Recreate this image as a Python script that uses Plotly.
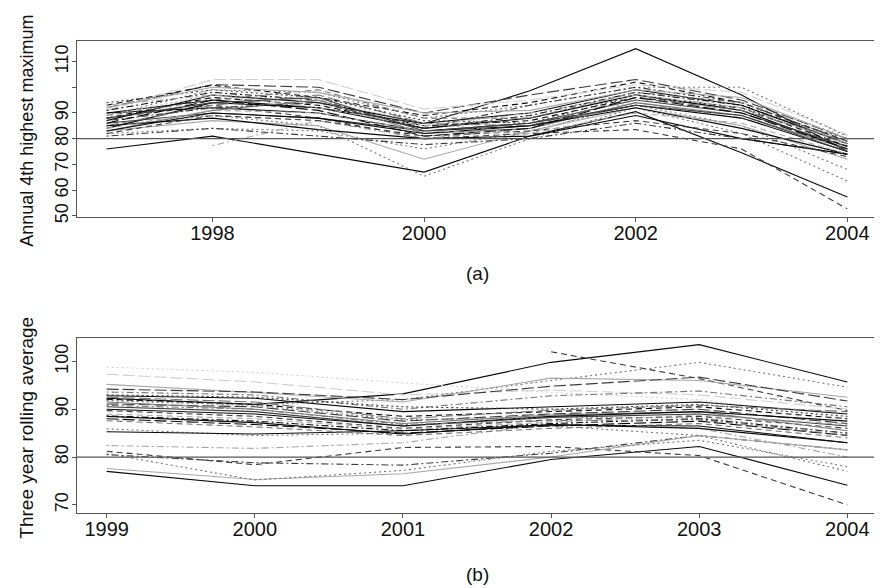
import plotly.graph_objects as go

# ---------------- data ----------------
years_a = [1997, 1998, 1999, 2000, 2001, 2002, 2003, 2004]
years_b = [1999, 2000, 2001, 2002, 2003, 2004]

xticks_a = [1998, 2000, 2002, 2004]
xticks_b = [1999, 2000, 2001, 2002, 2003, 2004]
yticks_a = [50, 60, 70, 80, 90, 100, 110]
yticklabels_a = ["50", "60", "70", "80", "90", "", "110"]
yticks_b = [70, 80, 90, 100]
yticklabels_b = ["70", "80", "90", "100"]

standard = 80

# (a) annual 4th highest maximum, one list per monitor
series_a = [
    [90, 95, 92, 85.8, 98.6, 115, 97, 75],
    [76, 81, 74, 67, 81, 90.5, 74.5, 57.3],
    [88, 93, 88, 80, 82, 83.5, 76, 52.7],
    [85, 89, 85, 65.4, 80, 92, 82, 63.5],
    [82, 84, 83, 76, 83, 93, 85, 68],
    [83, 87, 85, 72, 83, 92, 85, 72],
    [None, 77.3, 87, 80, 84, 94, 88, 77],
    [81, 84, 81, 77.7, 80, 86, 80, 74],
    [92, 101, 100, 90, 97, 103, 95, 80],
    [93, 100.8, 96, 89, 94, 102, 94, 79],
    [91, 103, 103, 91.5, 95, 101, 98, 81.5],
    [89, 99, 98, 88, 93, 100, 100, 81],
    [87, 97, 94, 86, 90, 99, 93, 78],
    [84, 94, 92, 84, 88, 97, 91, 76],
    [86, 90, 88, 83, 86, 95, 90, 77],
    [90, 92, 90, 83, 85, 93, 88, 75],
    [88, 96, 93, 85, 87, 96, 92, 77],
    [91, 98, 95, 84, 89, 98, 93, 78],
    [85, 93, 97, 86, 85, 96, 91, 79],
    [83, 91, 95, 82, 84, 94, 89, 76],
    [94, 99, 96, 87, 86, 97, 92, 80],
    [89, 95, 99, 88, 88, 98, 94, 78],
    [83, 90, 88, 82, 85, 92, 84, 74],
    [87, 92, 94, 84, 93, 100, 94, 79],
    [86, 95, 91, 81, 84, 96, 90, 76],
    [92, 100, 98, 90, 91, 99, 96, 80],
    [89, 97, 95, 86, 82, 95, 94, 81],
    [85, 88, 83.5, 80, 81, 89, 80, 74],
    [82, 89, 87, 81, 83, 87, 82, 73],
    [93, 97, 92, 85, 90, 97, 92, 78],
    [88, 94, 96, 83, 86, 93, 89, 75],
    [84, 91, 90, 83, 82, 90, 86, 74],
]

# (b) three year rolling average, one list per monitor
series_b = [
    [92.3, 91, 93.2, 99.8, 103.5, 95.7],
    [77, 74, 74, 79.5, 82.2, 74.1],
    [None, None, None, 102, 96.4, 89.7],
    [81.2, 78.4, 82, 82.2, 80.3, 70],
    [80.5, 78.8, 78.3, 80.8, 84.5, 81.5],
    [77.6, 75.3, 76.5, 80, 84.5, 81.5],
    [80.7, 75.2, 77.2, 81.2, 83.5, 78],
    [85.9, 84.5, 85, 86.5, 84.5, 77],
    [82.4, 81.8, 83, 87, 86, 80],
    [85.3, 84.8, 85.5, 86.7, 86.5, 83],
    [97.3, 95.7, 93, 94, 93, 90],
    [98.8, 97.7, 95.5, 93.5, 92, 88],
    [92, 91, 92, 96, 99.8, 94.6],
    [95.2, 93.5, 91.5, 96.5, 96, 92.5],
    [94.2, 93.6, 92, 94.8, 96.7, 91.7],
    [93.6, 93, 90, 92.8, 93.8, 90.5],
    [92.8, 92.3, 89.5, 90.5, 91.5, 89],
    [92.1, 91, 88.5, 89.5, 90.5, 88],
    [91.1, 90.5, 87.5, 89, 90, 87],
    [90.5, 89.5, 86.5, 88.3, 89, 86.5],
    [89.7, 88.5, 86, 87.8, 88.5, 86],
    [88.6, 87.5, 85.5, 87, 88, 85],
    [88, 86.8, 85, 86.5, 87.5, 84.5],
    [87.6, 86.3, 84.5, 86, 87, 84],
    [91.5, 90, 87, 88.8, 89.5, 85.5],
    [93, 92.5, 90.5, 90, 91, 88.5],
    [90, 89, 86.5, 88.5, 89.5, 87.5],
    [89, 88, 85.8, 87.3, 88.8, 86.8],
    [92.5, 91.5, 88, 89.8, 90.8, 89.5],
    [88.5, 87.2, 84.8, 86.8, 86, 83],
    [91.8, 90.8, 87.8, 88.2, 88.2, 85],
    [90.8, 90, 86.8, 87.6, 87.8, 84.6],
]

# ---------------- styles ----------------
BLACK, DARK, MID, LIGHT, VLIGHT = "#0a0a0a", "#3c3c3c", "#767676", "#a8a8a8", "#d0d0d0"
SOLID, DASH, DOT, DOTDASH, LONGDASH = "solid", "6px,4px", "2px,3px", "2px,3px,7px,3px", "12px,4px"

styles_a = [
    (BLACK, SOLID), (BLACK, SOLID), (DARK, DASH), (MID, DOT), (MID, DOT), (LIGHT, SOLID),
    (LIGHT, DOTDASH), (DARK, DOTDASH), (DARK, LONGDASH), (BLACK, DASH), (VLIGHT, LONGDASH),
    (MID, DOT), (BLACK, SOLID), (BLACK, SOLID), (DARK, SOLID), (BLACK, SOLID), (BLACK, DASH),
    (BLACK, DOTDASH), (MID, LONGDASH), (MID, SOLID), (DARK, DOT), (MID, DASH), (BLACK, SOLID),
    (DARK, DOTDASH), (BLACK, LONGDASH), (LIGHT, SOLID), (LIGHT, DOT), (BLACK, SOLID),
    (DARK, DASH), (LIGHT, DOTDASH), (DARK, SOLID), (LIGHT, DASH),
]
styles_b = [
    (BLACK, SOLID), (BLACK, SOLID), (DARK, DASH), (DARK, DASH), (DARK, DOTDASH), (LIGHT, SOLID),
    (MID, DOT), (MID, DOT), (LIGHT, DOTDASH), (BLACK, SOLID), (VLIGHT, LONGDASH), (VLIGHT, DOT),
    (MID, DOT), (LIGHT, SOLID), (DARK, LONGDASH), (MID, DOTDASH), (BLACK, SOLID), (BLACK, DASH),
    (DARK, LONGDASH), (DARK, SOLID), (DARK, DASH), (BLACK, DOTDASH), (BLACK, LONGDASH),
    (MID, DASH), (MID, SOLID), (DARK, DOT), (BLACK, SOLID), (LIGHT, DASH), (MID, LONGDASH),
    (BLACK, SOLID), (MID, DOT), (MID, DOTDASH),
]

FONT = "Liberation Sans, Arial, Helvetica, sans-serif"
W, H = 882, 588
L, R = 69, 869
A_TOP, A_BOT = 33, 211
B_TOP, B_BOT = 333, 510
FRAME = "#555555"

fig = go.Figure()
for s, (c, d) in zip(series_a, styles_a):
    fig.add_trace(go.Scatter(x=years_a, y=s, mode="lines", xaxis="x", yaxis="y",
                             line=dict(color=c, width=1.1, dash=d),
                             showlegend=False, hoverinfo="skip"))
for s, (c, d) in zip(series_b, styles_b):
    fig.add_trace(go.Scatter(x=years_b, y=s, mode="lines", xaxis="x2", yaxis="y2",
                             line=dict(color=c, width=1.1, dash=d),
                             showlegend=False, hoverinfo="skip"))

axis_common = dict(showline=True, mirror=True, linecolor=FRAME, linewidth=1.3,
                   ticks="outside", ticklen=4, tickcolor=FRAME, tickwidth=1,
                   showgrid=False, zeroline=False)
xfont = dict(family=FONT, size=20, color="#111111")
yfont = dict(family=FONT, size=18, color="#111111")

fig.update_layout(
    width=W, height=H, autosize=False,
    margin=dict(l=0, r=0, t=0, b=0),
    paper_bgcolor="white", plot_bgcolor="white",
    xaxis=dict(domain=[L / W, R / W], anchor="y", range=[1996.72, 2004.28],
               tickvals=xticks_a, ticktext=[str(v) for v in xticks_a],
               ticklabelstandoff=-6, tickfont=xfont, **axis_common),
    yaxis=dict(domain=[1 - A_BOT / H, 1 - A_TOP / H], anchor="x", range=[49.6, 118.1],
               tickvals=yticks_a, ticktext=yticklabels_a, tickangle=-90,
               ticklabelstandoff=-3, tickfont=yfont, **axis_common),
    xaxis2=dict(domain=[L / W, R / W], anchor="y2", range=[1998.8, 2004.2],
                tickvals=xticks_b, ticktext=[str(v) for v in xticks_b],
                ticklabelstandoff=-6, tickfont=xfont, **axis_common),
    yaxis2=dict(domain=[1 - B_BOT / H, 1 - B_TOP / H], anchor="x2", range=[68.34, 104.97],
                tickvals=yticks_b, ticktext=yticklabels_b, tickangle=-90,
                ticklabelstandoff=-3, tickfont=yfont, **axis_common),
    shapes=[
        dict(type="line", xref="x domain", yref="y", x0=0, x1=1, y0=standard, y1=standard,
             line=dict(color=FRAME, width=1.3)),
        dict(type="line", xref="x2 domain", yref="y2", x0=0, x1=1, y0=standard, y1=standard,
             line=dict(color=FRAME, width=1.3)),
    ],
    annotations=[
        dict(text="Annual 4th highest maximum", xref="paper", yref="paper",
             x=19 / W, y=1 - 124 / H, textangle=-90, showarrow=False,
             xanchor="center", yanchor="middle", font=dict(family=FONT, size=18, color="#111111")),
        dict(text="Three year rolling average", xref="paper", yref="paper",
             x=19 / W, y=1 - 424 / H, textangle=-90, showarrow=False,
             xanchor="center", yanchor="middle", font=dict(family=FONT, size=19, color="#111111")),
        dict(text="(a)", xref="paper", yref="paper", x=((L + R) / 2) / W, y=1 - 268 / H,
             showarrow=False, xanchor="center", yanchor="middle",
             font=dict(family=FONT, size=19, color="#111111")),
        dict(text="(b)", xref="paper", yref="paper", x=((L + R) / 2) / W, y=1 - 572 / H,
             showarrow=False, xanchor="center", yanchor="middle",
             font=dict(family=FONT, size=19, color="#111111")),
    ],
)

fig.write_html("out.html")
